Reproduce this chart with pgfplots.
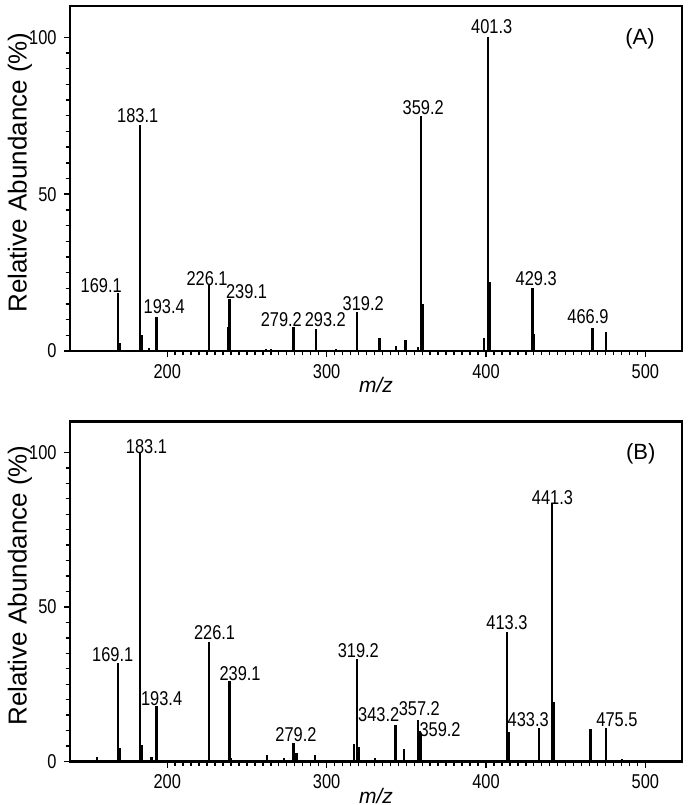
\documentclass[border=0pt]{standalone}
\usepackage{fontspec}
\setmainfont{Liberation Sans}[FakeStretch=0.82]
\newfontfamily\widefont{Liberation Sans}
\usepackage{pgfplots}
\pgfplotsset{compat=1.18}
\pgfplotsset{
  msstyle/.style={
    scale only axis, width=306pt,
    xmin=139, xmax=523, ymin=0, ymax=110,
    xtick={200,300,400,500}, ytick={0,50,100},
    minor x tick num=19, minor y tick num=9,
    tick align=outside, tick pos=left,
    major tick length=3.2pt, minor tick length=2.2pt,
    axis line style={line width=1.1pt},
    every tick/.style={black, line width=0.7pt},
    tick label style={font=\fontsize{10}{12}\selectfont},
    /pgf/number format/assume math mode=true,
    clip=false,
    xlabel={\widefont\fontsize{10.5}{12}\selectfont\itshape m/z},
    xlabel style={at={([yshift=-17pt]axis description cs:0.5,0)}, anchor=center},
    ylabel={\widefont\fontsize{13}{15}\selectfont Relative Abundance (\%)},
    ylabel style={at={([xshift=-25pt,yshift=3pt]axis description cs:0,0.5)}, anchor=center},
    peak/.style={ycomb, black, no markers, line width=1.2pt},
    every node/.append style={font=\fontsize{10}{12}\selectfont},
  }
}
\begin{document}
\begin{tikzpicture}
\useasboundingbox (0,0) rectangle (344pt,402.5pt);
% ---------------- Panel A ----------------
\begin{axis}[msstyle, at={(35pt,227pt)}, anchor=south west, height=172.5pt]
\addplot[peak] coordinates {
(169.1,18.4) (170.5,2.5) (183.1,72) (184.3,5) (188.5,1) (193.4,10.7)
(226.1,21) (238.4,7.5) (239.1,16.5) (262,0.5) (265,0.5) (279.2,7.7) (293.2,6.9)
(306,0.5) (319.2,12.5) (333.2,4.2) (343.5,1.6) (349.4,3.5) (357.4,1.3)
(359.2,75) (360.2,15) (398.7,4) (401.3,100) (402.3,22) (429.3,20) (430.3,5.4)
(466.9,7.2) (475.2,6.1)
};
\node at (axis cs:158.6,20.7) {169.1};
\node at (axis cs:181.5,75.2) {183.1};
\node at (axis cs:198.1,14.3) {193.4};
\node at (axis cs:225.0,23.2) {226.1};
\node at (axis cs:249.8,18.9) {239.1};
\node at (axis cs:271.6,9.9) {279.2};
\node at (axis cs:299.2,9.9) {293.2};
\node at (axis cs:323.0,15.2) {319.2};
\node at (axis cs:360.6,77.6) {359.2};
\node at (axis cs:403.6,103.3) {401.3};
\node at (axis cs:431.5,23.2) {429.3};
\node at (axis cs:464.0,10.9) {466.9};
\node[font=\widefont\fontsize{11}{13}\selectfont] at (axis cs:496.6,99.4) {(A)};
\end{axis}
% ---------------- Panel B ----------------
\begin{axis}[msstyle, at={(35pt,21.75pt)}, anchor=south west, height=170pt]
\addplot[peak] coordinates {
(155.8,1.4) (169.1,31.8) (170.2,4.3) (183.1,100) (184.1,5.3) (190.2,1.6)
(193.4,17.8) (210.7,0.5) (226.1,38.8) (239.1,25.9) (240,1) (250,0.5)
(262.5,2.2) (273.4,1) (279.2,5.9) (281,2.8) (292.8,2.1) (317.3,5.7)
(319.2,33.2) (320.3,4.7) (330.4,1) (343.2,11.8) (348.6,4) (357.2,13.4)
(358.2,10) (359.2,8.6) (370.6,0.5) (413.3,41.9) (414.3,9.7) (433.3,10.8)
(441.3,83.5) (442.3,19.4) (465.7,10.4) (475.5,10.8) (485.5,0.8)
};
\node at (axis cs:165.8,34.5) {169.1};
\node at (axis cs:187.0,102) {183.1};
\node at (axis cs:196.5,20.5) {193.4};
\node at (axis cs:229.7,41.6) {226.1};
\node at (axis cs:245.7,28.4) {239.1};
\node at (axis cs:280.8,8.6) {279.2};
\node at (axis cs:319.9,36.0) {319.2};
\node at (axis cs:332.7,15.1) {343.2};
\node at (axis cs:358.2,17.2) {357.2};
\node at (axis cs:371.2,10.2) {359.2};
\node at (axis cs:413.2,44.8) {413.3};
\node at (axis cs:426.5,13.5) {433.3};
\node at (axis cs:441.7,85.3) {441.3};
\node at (axis cs:482.2,13.5) {475.5};
\node[font=\widefont\fontsize{11}{13}\selectfont] at (axis cs:497.1,99.4) {(B)};
\end{axis}
\end{tikzpicture}
\end{document}
